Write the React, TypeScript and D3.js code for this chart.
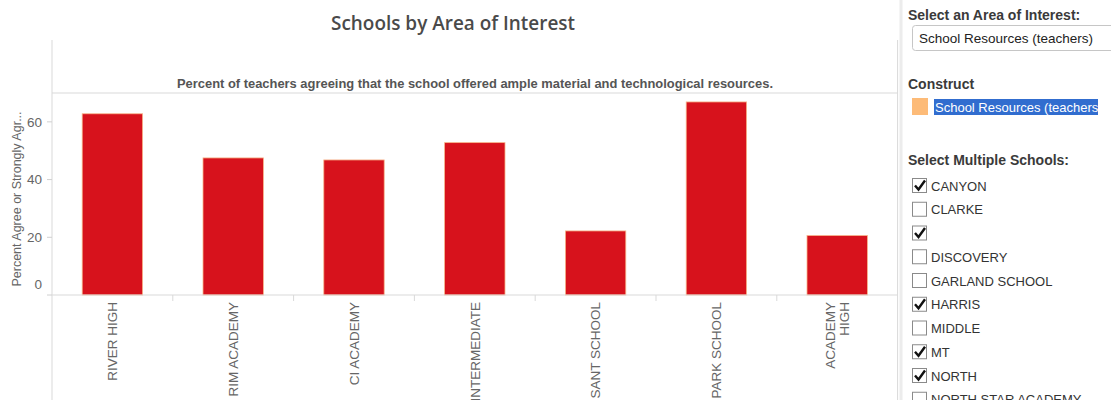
import React from "react";
import * as d3 from "d3";

const schools = ["RIVER HIGH", "RIM ACADEMY", "CI ACADEMY", "INTERMEDIATE", "SANT SCHOOL", "PARK SCHOOL", "ACADEMY\nHIGH"];
const percentAgree = [62.8, 47.5, 46.8, 52.8, 22.2, 66.9, 20.6];
const yTicks = [0, 20, 40, 60];
const schoolOptions = ["CANYON", "CLARKE", "", "DISCOVERY", "GARLAND SCHOOL", "HARRIS", "MIDDLE", "MT", "NORTH", "NORTH STAR ACADEMY"];
const schoolChecked = [true, false, true, false, false, true, false, true, true, false];

const W = 1111;
const H = 400;
const FONT = "'Liberation Sans', Arial, sans-serif";

export default function App() {
  const x0 = 52, x1 = 897.6, yTop = 93, yZero = 295;
  const x = d3.scaleBand<string>().domain(schools).range([x0, x1]).paddingInner(0.5).paddingOuter(0.25);
  const band = d3.scaleBand<string>().domain(schools).range([x0, x1]);
  const y = d3.scaleLinear().domain([0, 70]).range([yZero, yTop]);

  return (
    <svg width={W} height={H} style={{ position: "absolute", left: 0, top: 0, background: "#fff" }} fontFamily={FONT}>
      {/* Title */}
      <text x={453} y={30} textAnchor="middle" fontFamily="'Open Sans', sans-serif" fontSize={20} fontWeight={600} fill="#4a4a4a" textLength={244} lengthAdjust="spacingAndGlyphs">Schools by Area of Interest</text>

      {/* plot frame lines */}
      <line x1={x0} x2={x0} y1={40} y2={H} stroke="#d9d9d9" strokeWidth={1} />
      <line x1={x1} x2={x1} y1={40} y2={H} stroke="#d9d9d9" strokeWidth={1} />
      <line x1={x0} x2={x1} y1={yTop} y2={yTop} stroke="#d9d9d9" strokeWidth={1} />
      <rect x={899.5} y={0} width={3} height={H} fill="#ececec" />

      {/* subtitle */}
      <text x={475} y={88} textAnchor="middle" fontSize={12} fontWeight="bold" fill="#555" textLength={596} lengthAdjust="spacingAndGlyphs">Percent of teachers agreeing that the school offered ample material and technological resources.</text>

      {/* y axis */}
      {yTicks.map((t) => (
        <g key={t}>
          <line x1={x0 - 5} x2={x0} y1={y(t)} y2={y(t)} stroke="#d0d0d0" />
          <text x={42} y={Math.min(y(t), 284)} dy="0.35em" textAnchor="end" fontSize={13.5} fill="#666">{t}</text>
        </g>
      ))}
      <text transform={`translate(17,199) rotate(-90)`} textAnchor="middle" dy="0.35em" fontSize={12.5} fill="#666">Percent Agree or Strongly Agr...</text>

      {/* bars */}
      {schools.map((s, i) => (
        <rect key={s} x={x(s)} y={y(percentAgree[i])} width={x.bandwidth()} height={yZero - y(percentAgree[i])} fill="#d7121c" stroke="#f7b48a" strokeWidth={0.8} />
      ))}

      {/* x axis */}
      <line x1={x0} x2={x1} y1={yZero} y2={yZero} stroke="#d9d9d9" strokeWidth={1.2} />
      {schools.slice(1).map((s) => (
        <line key={s} x1={band(s)} x2={band(s)} y1={yZero} y2={yZero + 6} stroke="#d9d9d9" />
      ))}
      {schools.map((s) => {
        const cx = band(s)! + band.bandwidth() / 2;
        const lines = s.split("\n");
        const lh = 14;
        return (
          <text key={s} transform={`translate(${cx},302) rotate(-90)`} textAnchor="end" fontSize={13.5} fill="#666">
            {lines.map((l, j) => (
              <tspan key={j} x={0} dy={j === 0 ? `${-((lines.length - 1) * lh) / 2 + 4.8}` : `${lh}`}>{l}</tspan>
            ))}
          </text>
        );
      })}

      {/* right panel */}
      <text x={908} y={20} fontSize={14} fontWeight="bold" fill="#3a3a3a">Select an Area of Interest:</text>
      <rect x={912.5} y={25.5} width={220} height={25} rx={3} fill="#fff" stroke="#c6c6c6" />
      <text x={919} y={43} fontSize={13.5} fill="#222">School Resources (teachers)</text>

      <text x={908} y={89} fontSize={14} fontWeight="bold" fill="#3a3a3a">Construct</text>
      <rect x={912} y={98} width={16} height={17} fill="#fdbb78" />
      <rect x={934} y={99} width={164} height={16} fill="#316dcf" />
      <text x={935} y={112} fontSize={13} fill="#fff">School Resources (teachers</text>

      <text x={908} y={165} fontSize={14} fontWeight="bold" fill="#3a3a3a">Select Multiple Schools:</text>
      {schoolOptions.map((name, i) => {
        const top = 178.5 + i * 23.75;
        return (
          <g key={i}>
            <rect x={912.5} y={top} width={14} height={14} fill="#fff" stroke="#8a8a8a" />
            {schoolChecked[i] && (
              <path d={`M${915},${top + 7} L${918.5},${top + 11} L${925},${top + 2}`} fill="none" stroke="#111" strokeWidth={2.4} />
            )}
            <text x={931} y={top + 12} fontSize={13} fill="#333">{name}</text>
          </g>
        );
      })}
    </svg>
  );
}
